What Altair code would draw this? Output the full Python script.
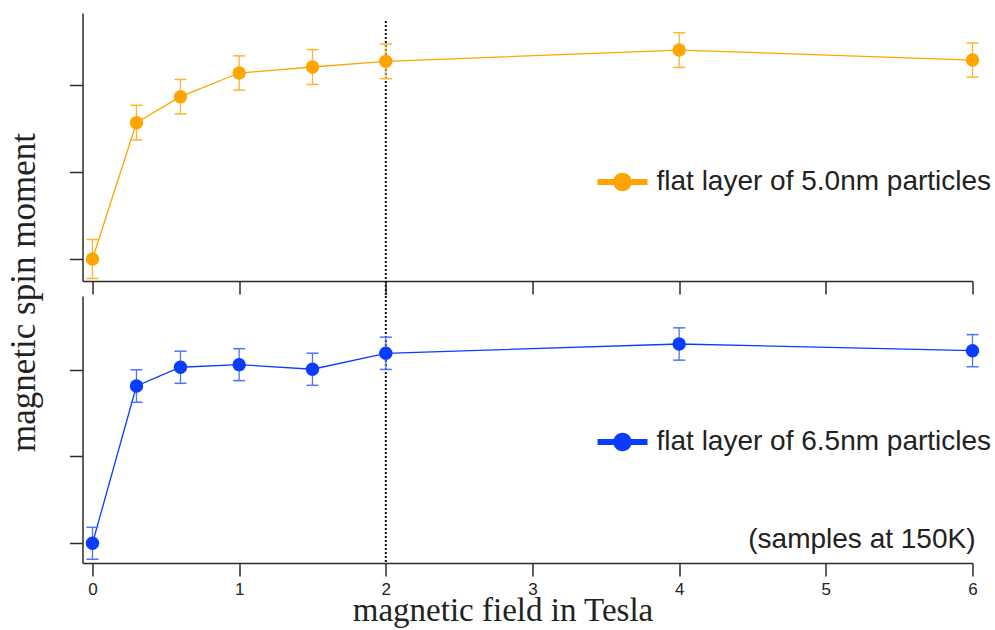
import altair as alt
import pandas as pd

# ---- data ----
field_T = [0, 0.3, 0.6, 1, 1.5, 2, 4, 6]
moment_50 = [0.0, 1.567, 1.866, 2.138, 2.207, 2.272, 2.402, 2.287]
error_50 = [0.224, 0.200, 0.198, 0.197, 0.200, 0.199, 0.200, 0.197]
moment_65 = [0.0, 1.812, 2.028, 2.058, 2.005, 2.189, 2.296, 2.219]
error_65 = [0.184, 0.187, 0.185, 0.184, 0.185, 0.186, 0.186, 0.185]
x_ticks = [0, 1, 2, 3, 4, 5, 6]
y_ticks = [0, 1, 2]
marker_field = [2]
series_labels = ["flat layer of 5.0nm particles", "flat layer of 6.5nm particles"]
note_text = ["(samples at 150K)"]

ORANGE, ORANGE_ERR = "#FFA500", "#FDB52E"
BLUE, BLUE_ERR = "#0A3CFF", "#4A76FF"
AX = "#2b2b2b"
SANS = "Liberation Sans"
SERIF = "Liberation Serif"

W = 890
H1 = 268
H2 = 267
X_DOM = [-0.068, 6.0]

legend_path = ("M-1,-0.12H1V0.12H-1Z "
               "M-0.37,0A0.37,0.37 0 1,1 0.37,0A0.37,0.37 0 1,1 -0.37,0Z")


def panel(moment, err, label, color, err_color, ydom, h, bottom):
    df = pd.DataFrame({
        "field": field_T,
        "moment": moment,
        "lo": [m - e for m, e in zip(moment, err)],
        "hi": [m + e for m, e in zip(moment, err)],
        "series": [label] * len(field_T),
    })
    xscale = alt.Scale(domain=X_DOM, nice=False, zero=False)
    yscale = alt.Scale(domain=ydom, nice=False, zero=False)

    if bottom:
        xaxis = alt.Axis(values=x_ticks, grid=False, tickSize=13, tickWidth=1.5,
                         tickColor=AX, domainColor=AX, domainWidth=1.5,
                         labelFont=SANS, labelFontSize=17, labelColor="#222",
                         labelPadding=5, labelFlush=False,
                         title="magnetic field in Tesla", titleFont=SERIF,
                         titleFontSize=33, titleFontWeight="normal",
                         titleColor="#222", titleX=420, titleY=57,
                         titleAlign="center", titleBaseline="alphabetic")
        yaxis = alt.Axis(values=y_ticks, grid=False, labels=False, tickSize=13,
                         tickWidth=1.5, tickColor=AX, domainColor=AX,
                         domainWidth=1.5, title=None)
    else:
        xaxis = alt.Axis(values=x_ticks, grid=False, labels=False, tickSize=13,
                         tickWidth=1.5, tickColor=AX, domainColor=AX,
                         domainWidth=1.5, title=None)
        yaxis = alt.Axis(values=y_ticks, grid=False, labels=False, tickSize=13,
                         tickWidth=1.5, tickColor=AX, domainColor=AX,
                         domainWidth=1.5,
                         title="magnetic spin moment", titleFont=SERIF,
                         titleFontSize=35, titleFontWeight="normal",
                         titleColor="#222", titleAngle=270, titleX=-48,
                         titleY=279, titleAlign="center",
                         titleBaseline="alphabetic")

    X = alt.X("field:Q", scale=xscale, axis=xaxis)

    def Y(f):
        return alt.Y(f, scale=yscale, axis=yaxis)

    base = alt.Chart(df)
    line = base.mark_line(color=color, strokeWidth=1.3).encode(
        x=X, y=Y("moment:Q"))
    bars = base.mark_rule(color=err_color, strokeWidth=1.3).encode(
        x=X, y=Y("lo:Q"), y2="hi:Q")
    cap_lo = base.mark_tick(orient="horizontal", size=12, thickness=1.5,
                            color=err_color, opacity=1).encode(
        x=X, y=Y("lo:Q"))
    cap_hi = base.mark_tick(orient="horizontal", size=12, thickness=1.5,
                            color=err_color, opacity=1).encode(
        x=X, y=Y("hi:Q"))
    pts = base.mark_point(filled=True, size=180, opacity=1).encode(
        x=X, y=Y("moment:Q"),
        color=alt.Color("series:N",
                        scale=alt.Scale(domain=[label], range=[color]),
                        legend=alt.Legend(orient="none", legendX=515,
                                          legendY=144 if not bottom else 121,
                                          title=None, padding=0,
                                          symbolType=legend_path,
                                          symbolSize=2500,
                                          symbolStrokeWidth=0,
                                          symbolOpacity=1,
                                          labelFont=SANS, labelFontSize=28,
                                          labelColor="#222", labelOffset=9,
                                          labelLimit=600)),
    )
    vline = alt.Chart(pd.DataFrame({"field": marker_field})).mark_rule(
        color="#111", strokeWidth=2, strokeDash=[2, 2]).encode(
        x=X,
        y=alt.value(8 if not bottom else 0),
        y2=alt.value(h + 16 if not bottom else h),
    )
    layers = [vline, line, bars, cap_lo, cap_hi, pts]
    if bottom:
        note = alt.Chart(pd.DataFrame({"note": note_text})).mark_text(
            align="right", baseline="alphabetic", font=SANS, fontSize=28,
            color="#222").encode(
            text="note:N", x=alt.value(W + 3), y=alt.value(h - 15))
        layers.append(note)
    return alt.layer(*layers).properties(width=W, height=h)


top = panel(moment_50, error_50, series_labels[0], ORANGE, ORANGE_ERR,
            [-0.253, 2.828], H1, False)
bot = panel(moment_65, error_65, series_labels[1], BLUE, BLUE_ERR,
            [-0.227, 2.849], H2, True)

chart = alt.vconcat(top, bot, spacing=15, bounds="flush").resolve_scale(
    y="independent", color="independent"
).resolve_legend(color="independent").properties(
    padding={"left": 5.5, "top": 12, "right": 0, "bottom": 0},
    background="white",
).configure_view(stroke="transparent")

chart.save("out.html", embed_options={"renderer": "svg", "actions": False})
